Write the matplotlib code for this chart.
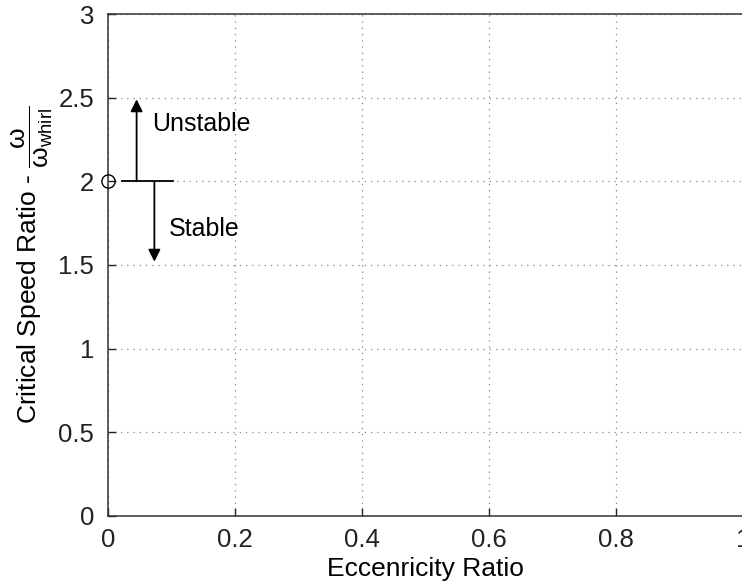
import matplotlib
matplotlib.use('Agg')
import matplotlib.pyplot as plt

plt.rcParams['font.family'] = ['Liberation Sans', 'DejaVu Sans']
plt.rcParams['mathtext.fontset'] = 'custom'
plt.rcParams['mathtext.rm'] = 'Liberation Sans'
plt.rcParams['mathtext.it'] = 'Liberation Sans:italic'

# data
punto_x = [0.0]
punto_y = [2.0]
linea_x = [0.022, 0.102]
linea_y = [2.0, 2.0]
flecha_arriba = (0.045, 2.0, 2.49)   # x, desde, hasta
flecha_abajo = (0.073, 2.0, 1.52)
xticks = [0, 0.2, 0.4, 0.6, 0.8, 1]
yticks = [0, 0.5, 1, 1.5, 2, 2.5, 3]

fig = plt.figure(figsize=(7.42, 5.81), dpi=100)
ax = fig.add_axes([0.1456, 0.1119, 0.8558, 0.864])

ax.plot(punto_x, punto_y, 'o', mfc='none', mec='black', ms=9.5, mew=1, clip_on=False, zorder=5)
ax.plot(linea_x, linea_y, color='black', lw=1.3)

for fx, y0, y1 in [flecha_arriba, flecha_abajo]:
    ax.annotate('', xy=(fx, y1), xytext=(fx, y0),
                arrowprops=dict(arrowstyle='-|>', color='black', lw=1.3,
                                mutation_scale=18, shrinkA=0, shrinkB=0))

ax.text(0.07, 2.34, 'Unstable', fontsize=18, va='center', ha='left')
ax.text(0.095, 1.715, 'Stable', fontsize=18, va='center', ha='left')

ax.set_xlim(0, 1)
ax.set_ylim(0, 3)
ax.set_xticks(xticks)
ax.set_xticklabels(['0', '0.2', '0.4', '0.6', '0.8', '1'])
ax.set_yticks(yticks)
ax.set_yticklabels(['0', '0.5', '1', '1.5', '2', '2.5', '3'])
ax.tick_params(direction='in', length=6, labelsize=18.5, width=1, colors='#222222')
ax.tick_params(axis='x', pad=9)
ax.tick_params(axis='y', pad=10)
ax.grid(True, linestyle=(0, (1, 4)), color='#888888', lw=0.9)

for s in ax.spines.values():
    s.set_color('#333333')
    s.set_linewidth(1.1)

ax.set_xlabel('Eccenricity Ratio', fontsize=19, labelpad=3)
ax.set_ylabel(r'Critical Speed Ratio - $\dfrac{\mathrm{\omega}}{\mathrm{\omega}_{\mathrm{whirl}}}$',
              fontsize=19, labelpad=2)

fig.savefig('out.png', dpi=100)
